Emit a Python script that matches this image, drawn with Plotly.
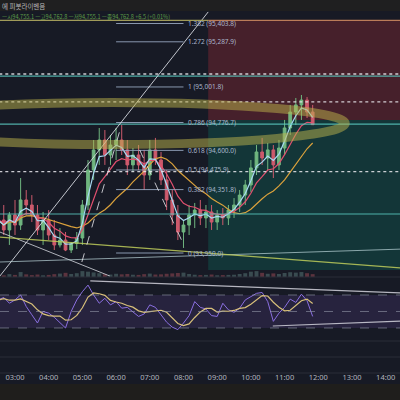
import pandas as pd
import plotly.graph_objects as go

DAY = "2025-01-07"
candle_times = pd.date_range(f"{DAY} 02:30", periods=57, freq="10min")

opens = [94127, 94159, 94096, 94191, 94127, 94286, 94254, 94191, 94096, 94159,
         94064, 94001, 94032, 93969, 94010, 94045, 94254, 94476, 94603, 94666,
         94571, 94634, 94666, 94603, 94508, 94571, 94508, 94444, 94603, 94539,
         94413, 94286, 94191, 94083, 94127, 94191, 94222, 94172, 94210, 94146,
         94191, 94172, 94222, 94254, 94317, 94381, 94489, 94590, 94552, 94603,
         94508, 94615, 94742, 94843, 94888, 94919, 94843]
highs = [94222, 94254, 94210, 94286, 94425, 94349, 94317, 94254, 94210, 94222,
         94159, 94108, 94083, 94020, 94083, 94286, 94539, 94666, 94742, 94729,
         94698, 94742, 94761, 94666, 94615, 94634, 94603, 94666, 94679, 94590,
         94476, 94349, 94254, 94159, 94254, 94267, 94286, 94254, 94254, 94222,
         94235, 94254, 94298, 94349, 94413, 94539, 94634, 94679, 94647, 94634,
         94666, 94793, 94888, 94932, 94951, 94938, 94888]
lows = [94032, 94064, 94001, 94064, 94096, 94191, 94146, 94064, 94001, 94032,
        93969, 93985, 93962, 93950, 93975, 94001, 94222, 94413, 94508, 94508,
        94508, 94539, 94571, 94444, 94463, 94476, 94349, 94413, 94508, 94381,
        94222, 94127, 94032, 93982, 94064, 94108, 94127, 94108, 94096, 94096,
        94127, 94127, 94172, 94210, 94254, 94337, 94444, 94508, 94476, 94425,
        94476, 94571, 94698, 94761, 94793, 94805, 94761]
closes = [94159, 94096, 94191, 94127, 94286, 94254, 94191, 94096, 94159, 94064,
          94001, 94032, 93969, 94010, 94045, 94254, 94476, 94603, 94666, 94571,
          94634, 94666, 94603, 94508, 94571, 94508, 94444, 94603, 94539, 94413,
          94286, 94191, 94083, 94127, 94191, 94222, 94172, 94210, 94146, 94191,
          94172, 94222, 94254, 94317, 94381, 94489, 94590, 94552, 94603, 94508,
          94615, 94742, 94843, 94888, 94919, 94843, 94763]
volumes = [120, 90, 150, 110, 260, 140, 100, 130, 90, 110,
           150, 180, 220, 160, 200, 310, 280, 240, 200, 150,
           130, 170, 140, 160, 120, 110, 150, 180, 130, 140,
           170, 190, 210, 230, 160, 120, 100, 110, 130, 90,
           100, 110, 120, 160, 200, 280, 310, 220, 170, 190,
           160, 210, 250, 230, 260, 200, 150]
rsi_values = [64, 67, 60, 64, 70, 56, 46, 36, 50, 48,
              43, 37, 30, 50, 64, 74, 82, 70, 60, 66,
              58, 62, 54, 55, 50, 44, 47, 58, 55, 46,
              37, 31, 28, 36, 45, 62, 55, 53, 45, 44,
              60, 52, 49, 54, 64, 68, 72, 73, 62, 38,
              48, 55, 65, 61, 71, 63, 44]

fib_ratios = ["1.382", "1.272", "1", "0.786", "0.618", "0.5", "0.382", "0"]
fib_prices = [95403.8, 95287.9, 95001.8, 94776.7, 94600.0, 94475.9, 94351.8, 93950.0]
fib_start, fib_end, fib_label_x = "06:00", "08:00", "08:05"

x_start, x_end = "02:33:18", "14:25:30"
zone_start, zone_stop, zone_entry, zone_target = "08:44", 95420, 94793, 93842

dotted_levels = [95084, 94907, 94466]
teal_levels = [95071, 94767, 94197]
# drawn trendlines: (t0, p0, t1, p1, color, dash, width)
main_lines = [
    ("02:33", 93804, "08:44", 95477, "rgba(225,228,235,0.85)", "solid", 1),
    ("02:33", 94083, "05:49", 93804, "rgba(225,228,235,0.75)", "solid", 1),
    ("02:33", 93893, "14:30", 93975, "rgba(190,215,220,0.7)", "solid", 1),
    ("02:33", 94051, "14:30", 93855, "rgba(190,205,90,0.85)", "solid", 1.2),
    ("02:33", 95423, "08:44", 95423, "rgba(175,170,95,0.9)", "solid", 1.2),
    ("08:44", 95423, "14:30", 95423, "rgba(205,135,95,0.9)", "solid", 1.2),
    ("04:59", 93893, "06:07", 94729, "rgba(235,235,240,0.8)", "dash", 1),
    ("06:42", 94603, "08:03", 93982, "rgba(235,235,240,0.8)", "dash", 1),
]
# highlighter ellipse bounding box (hours from DAY midnight, prices)
ellipse_box = (-1.0, 94637, 12.8, 94904)
rsi_lines = [("05:14", 87.0, "14:30", 72.4), ("10:39", 32.4, "14:30", 38.5)]

legend_text = "ㅡ시94,755.1 ㅡ고94,762.8 ㅡ저94,755.1 ㅡ종94,762.8 +6.5 (+0.01%)"
header_text = "에 피봇라이벤음"

BASE = pd.Timestamp(DAY)


def T(hm):
    return f"{DAY} {hm}"


def TH(hours):
    return (BASE + pd.Timedelta(hours=hours)).strftime("%Y-%m-%d %H:%M:%S")


H = 400.0


def py(px):
    return 1 - px / H


df = pd.DataFrame({"o": opens, "h": highs, "l": lows, "c": closes}, index=candle_times)
ma_fast = df["c"].ewm(span=3, adjust=False).mean()
ma_mid = df["c"].ewm(span=7, adjust=False).mean()
ma_slow = df["c"].rolling(14, min_periods=1).mean()
rsi_s = pd.Series(rsi_values, index=candle_times)
rsi_ma = rsi_s.rolling(4, min_periods=1).mean()

fig = go.Figure()

vol_colors = ["rgba(120,170,160,0.35)" if c >= o else "rgba(220,100,110,0.35)"
              for o, c in zip(opens, closes)]
fig.add_trace(go.Bar(x=candle_times, y=volumes, marker_color=vol_colors,
                     marker_line_width=0, xaxis="x", yaxis="y4", showlegend=False))
fig.add_trace(go.Candlestick(x=candle_times, open=opens, high=highs, low=lows, close=closes,
                             increasing=dict(line=dict(color="#6fb57f", width=1), fillcolor="#6fb57f"),
                             decreasing=dict(line=dict(color="#cc5a6c", width=1), fillcolor="#cc5a6c"),
                             whiskerwidth=0, xaxis="x", yaxis="y", showlegend=False))
fig.add_trace(go.Scatter(x=candle_times, y=ma_slow, mode="lines", line=dict(color="#dba23c", width=1.2),
                         xaxis="x", yaxis="y", showlegend=False))
fig.add_trace(go.Scatter(x=candle_times, y=ma_mid, mode="lines", line=dict(color="#e2506f", width=1.2),
                         xaxis="x", yaxis="y", showlegend=False))
fig.add_trace(go.Scatter(x=candle_times, y=ma_fast, mode="lines", line=dict(color="#a9d9f2", width=1.2),
                         xaxis="x", yaxis="y", showlegend=False))

fig.add_trace(go.Scatter(x=candle_times, y=rsi_values, mode="lines", line=dict(color="#8a6fe0", width=1),
                         xaxis="x2", yaxis="y2", showlegend=False))
fig.add_trace(go.Scatter(x=candle_times, y=rsi_ma, mode="lines", line=dict(color="#d8c07a", width=1.2),
                         xaxis="x2", yaxis="y2", showlegend=False))
fig.add_trace(go.Scatter(x=[T(x_start)], y=[0], mode="markers", marker=dict(opacity=0),
                         xaxis="x3", yaxis="y3", showlegend=False, hoverinfo="skip"))

shapes = []
shapes.append(dict(type="rect", xref="x", yref="y", x0=T(zone_start), x1=T("14:30"),
                   y0=zone_entry, y1=zone_stop, fillcolor="rgba(242,54,69,0.22)", line_width=0, layer="below"))
shapes.append(dict(type="rect", xref="x", yref="y", x0=T(zone_start), x1=T("14:30"),
                   y0=zone_target, y1=zone_entry, fillcolor="rgba(8,153,129,0.22)", line_width=0, layer="below"))
for lv in dotted_levels:
    shapes.append(dict(type="line", xref="x", yref="y", x0=T("02:00"), x1=T("14:30"), y0=lv, y1=lv,
                       line=dict(color="rgba(235,235,240,0.85)", width=1.3, dash="dot")))
for lv in teal_levels:
    shapes.append(dict(type="line", xref="x", yref="y", x0=T("02:00"), x1=T("14:30"), y0=lv, y1=lv,
                       line=dict(color="rgba(90,200,190,0.85)", width=1.2)))
for p in fib_prices:
    shapes.append(dict(type="line", xref="x", yref="y", x0=T(fib_start), x1=T(fib_end), y0=p, y1=p,
                       line=dict(color="rgba(150,165,190,0.9)", width=1)))
for t0, p0, t1, p1, col, dash, w in main_lines:
    shapes.append(dict(type="line", xref="x", yref="y", x0=T(t0), x1=T(t1), y0=p0, y1=p1,
                       line=dict(color=col, width=w, dash=dash)))
shapes.append(dict(type="circle", xref="x", yref="y", x0=TH(ellipse_box[0]), x1=TH(ellipse_box[2]),
                   y0=ellipse_box[1], y1=ellipse_box[3],
                   line=dict(color="rgba(190,180,75,0.5)", width=9)))
shapes.append(dict(type="rect", xref="paper", yref="y2", x0=0, x1=1, y0=30, y1=70,
                   fillcolor="rgba(126,87,194,0.16)", line_width=0, layer="below"))
for lv in (70, 50, 30):
    shapes.append(dict(type="line", xref="paper", yref="y2", x0=0, x1=1, y0=lv, y1=lv,
                       line=dict(color="rgba(150,155,170,0.6)", width=1, dash="dash")))
for t0, v0, t1, v1 in rsi_lines:
    shapes.append(dict(type="line", xref="x2", yref="y2", x0=T(t0), x1=T(t1), y0=v0, y1=v1,
                       line=dict(color="rgba(210,210,220,0.85)", width=1.2)))
shapes.append(dict(type="rect", xref="paper", yref="paper", x0=0, x1=1, y0=py(11), y1=1,
                   fillcolor="#1f1f20", line_width=0))
shapes.append(dict(type="rect", xref="paper", yref="paper", x0=0, x1=1, y0=0, y1=py(384),
                   fillcolor="#1f1e1c", line_width=0))
for sep in (277, 341, 357, 373):
    shapes.append(dict(type="line", xref="paper", yref="paper", x0=0, x1=1, y0=py(sep), y1=py(sep),
                       line=dict(color="#2a2d38", width=1)))

annotations = []
for r, p in zip(fib_ratios, fib_prices):
    annotations.append(dict(xref="x", yref="y", x=T(fib_label_x), y=p, text=f"{r} ({p:,.1f})",
                            showarrow=False, xanchor="left", yanchor="middle",
                            font=dict(size=6.5, color="#aab6cc", family="Noto Sans")))
annotations.append(dict(xref="paper", yref="paper", x=0, y=py(17), text=legend_text, showarrow=False,
                        xanchor="left", yanchor="middle",
                        font=dict(size=5.6, color="#5e9f48", family="Noto Sans CJK KR")))
annotations.append(dict(xref="paper", yref="paper", x=0, y=py(5.5), text=header_text, showarrow=False,
                        xanchor="left", yanchor="middle",
                        font=dict(size=6.5, color="#b8b8b8", family="Noto Sans CJK KR")))

xr = [T(x_start), T(x_end)]
common_x = dict(domain=[0, 1], range=xr, autorange=False, showgrid=False, zeroline=False,
                showline=False, type="date")
fig.update_layout(
    width=400, height=400, margin=dict(l=0, r=0, t=0, b=0, pad=0),
    paper_bgcolor="#171a25", plot_bgcolor="#171a25",
    showlegend=False, bargap=0.3,
    shapes=shapes, annotations=annotations,
    xaxis=dict(**common_x, anchor="y", showticklabels=False, rangeslider=dict(visible=False)),
    yaxis=dict(domain=[py(277), py(11)], range=[93798, 95483], showticklabels=False, showgrid=False,
               zeroline=False),
    yaxis4=dict(domain=[py(277), py(11)], range=[0, 14000], overlaying="y", visible=False),
    xaxis2=dict(**common_x, anchor="y2", showticklabels=False),
    yaxis2=dict(domain=[py(341), py(278)], range=[14.2, 90.6], showticklabels=False, showgrid=False,
                zeroline=False),
    xaxis3=dict(**common_x, anchor="y3", tickformat="%H:%M", dtick=3600000, ticks="", ticklen=0,
                tickfont=dict(size=7.5, color="#b2b5be", family="Noto Sans")),
    yaxis3=dict(domain=[py(371), py(341)], range=[0, 1], visible=False),
)

fig.write_html(
    "out.html",
    config={"displayModeBar": False},
    post_script="document.body.style.margin='0px';document.body.style.background='#171a25';",
)
